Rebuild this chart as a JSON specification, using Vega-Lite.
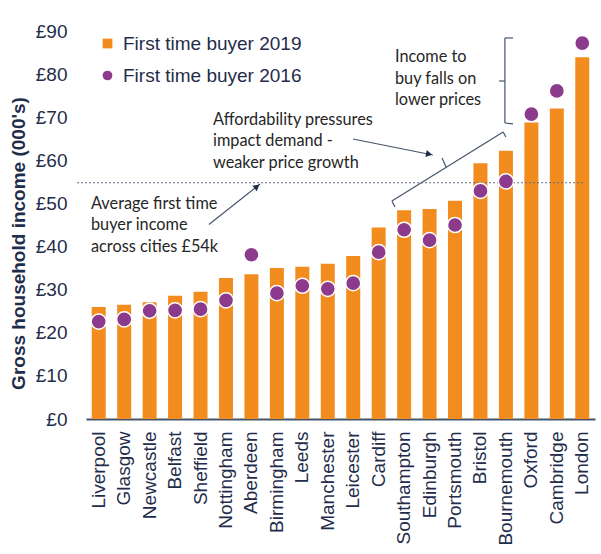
{
  "$schema": "https://vega.github.io/schema/vega-lite/v6.json",
  "autosize": {"type": "none"},
  "width": 509,
  "height": 388,
  "padding": {"left": 86, "top": 31, "right": 6, "bottom": 135},
  "background": "white",
  "config": {
    "view": {"stroke": null},
    "font": "Liberation Sans"
  },
  "datasets": {
    "incomes": [
      {"city": "Liverpool", "series": "First time buyer 2019", "value": 26.0},
      {"city": "Glasgow", "series": "First time buyer 2019", "value": 26.5},
      {"city": "Newcastle", "series": "First time buyer 2019", "value": 27.1},
      {"city": "Belfast", "series": "First time buyer 2019", "value": 28.6},
      {"city": "Sheffield", "series": "First time buyer 2019", "value": 29.5},
      {"city": "Nottingham", "series": "First time buyer 2019", "value": 32.7},
      {"city": "Aberdeen", "series": "First time buyer 2019", "value": 33.6},
      {"city": "Birmingham", "series": "First time buyer 2019", "value": 35.0},
      {"city": "Leeds", "series": "First time buyer 2019", "value": 35.3},
      {"city": "Manchester", "series": "First time buyer 2019", "value": 36.0},
      {"city": "Leicester", "series": "First time buyer 2019", "value": 37.8},
      {"city": "Cardiff", "series": "First time buyer 2019", "value": 44.4},
      {"city": "Southampton", "series": "First time buyer 2019", "value": 48.4},
      {"city": "Edinburgh", "series": "First time buyer 2019", "value": 48.7},
      {"city": "Portsmouth", "series": "First time buyer 2019", "value": 50.6},
      {"city": "Bristol", "series": "First time buyer 2019", "value": 59.3},
      {"city": "Bournemouth", "series": "First time buyer 2019", "value": 62.2},
      {"city": "Oxford", "series": "First time buyer 2019", "value": 68.8},
      {"city": "Cambridge", "series": "First time buyer 2019", "value": 72.0},
      {"city": "London", "series": "First time buyer 2019", "value": 83.9},
      {"city": "Liverpool", "series": "First time buyer 2016", "value": 22.6},
      {"city": "Glasgow", "series": "First time buyer 2016", "value": 23.1},
      {"city": "Newcastle", "series": "First time buyer 2016", "value": 25.1},
      {"city": "Belfast", "series": "First time buyer 2016", "value": 25.2},
      {"city": "Sheffield", "series": "First time buyer 2016", "value": 25.5},
      {"city": "Nottingham", "series": "First time buyer 2016", "value": 27.5},
      {"city": "Aberdeen", "series": "First time buyer 2016", "value": 38.1},
      {"city": "Birmingham", "series": "First time buyer 2016", "value": 29.2},
      {"city": "Leeds", "series": "First time buyer 2016", "value": 30.9},
      {"city": "Manchester", "series": "First time buyer 2016", "value": 30.2},
      {"city": "Leicester", "series": "First time buyer 2016", "value": 31.5},
      {"city": "Cardiff", "series": "First time buyer 2016", "value": 38.7},
      {"city": "Southampton", "series": "First time buyer 2016", "value": 43.9},
      {"city": "Edinburgh", "series": "First time buyer 2016", "value": 41.5},
      {"city": "Portsmouth", "series": "First time buyer 2016", "value": 45.0},
      {"city": "Bristol", "series": "First time buyer 2016", "value": 52.9},
      {"city": "Bournemouth", "series": "First time buyer 2016", "value": 55.1},
      {"city": "Oxford", "series": "First time buyer 2016", "value": 70.7},
      {"city": "Cambridge", "series": "First time buyer 2016", "value": 76.1},
      {"city": "London", "series": "First time buyer 2016", "value": 87.2}
    ],
    "average": [{"p": -0.35, "p2": 19.53, "v": 54.8}],
    "lines": [
      {"p": 4.83, "v": 45.1, "p2": 6.84, "v2": 54.5},
      {"p": 10.49, "v": 64.95, "p2": 13.63, "v2": 61.24},
      {"p": 12.02, "v": 50.57, "p2": 16.39, "v2": 66.57},
      {"p": 12.02, "v": 50.57, "p2": 12.14, "v2": 49.18},
      {"p": 16.39, "v": 66.57, "p2": 16.5, "v2": 65.41},
      {"p": 14.15, "v": 58.46, "p2": 13.99, "v2": 60.54},
      {"p": 16.46, "v": 88.38, "p2": 16.46, "v2": 68.66},
      {"p": 16.46, "v": 88.38, "p2": 16.78, "v2": 88.38},
      {"p": 16.46, "v": 68.66, "p2": 16.78, "v2": 68.45},
      {"p": 16.23, "v": 78.4, "p2": 16.46, "v2": 78.4}
    ],
    "head1": [{"p": 6.72, "v": 53.93}],
    "head2": [{"p": 13.48, "v": 61.43}],
    "notes": [
      {"label": "Average first time", "p": 0.196, "v": 49.87},
      {"label": "buyer income", "p": 0.196, "v": 45.0},
      {"label": "across cities £54k", "p": 0.196, "v": 39.9},
      {"label": "Affordability pressures", "p": 4.99, "v": 69.36},
      {"label": "impact demand -", "p": 4.99, "v": 64.49},
      {"label": "weaker price growth", "p": 4.99, "v": 59.38},
      {"label": "Income to", "p": 12.14, "v": 83.97},
      {"label": "buy falls on", "p": 12.14, "v": 78.87},
      {"label": "lower prices", "p": 12.14, "v": 74.0}
    ]
  },
  "resolve": {"scale": {"x": "independent"}},
  "layer": [
    {
      "data": {"name": "incomes"},
      "transform": [{"filter": "datum.series === 'First time buyer 2019'"}],
      "mark": {"type": "bar", "color": "#F28C1E"},
      "encoding": {
        "x": {
          "field": "city", "type": "nominal", "sort": null,
          "scale": {"paddingInner": 0.45, "paddingOuter": 0.225},
          "axis": {
            "title": null, "labelAngle": -90, "labelFontSize": 19, "labelColor": "#1F2D4B",
            "labelFont": "Liberation Sans", "ticks": false, "labelPadding": 12,
            "domainColor": "#44546A", "domainWidth": 2
          }
        },
        "y": {
          "field": "value", "type": "quantitative",
          "scale": {"domain": [0, 90], "nice": false},
          "axis": {
            "title": "Gross household income (000's)", "titleFontSize": 19, "titleFontWeight": "bold",
            "titleColor": "#1F2D4B", "titleFont": "Liberation Sans",
            "titleAngle": 270, "titleAlign": "center", "titleBaseline": "middle",
            "titleX": -68, "titleY": 212,
            "values": [0, 10, 20, 30, 40, 50, 60, 70, 80, 90],
            "labelExpr": "'£' + datum.value", "labelFontSize": 19, "labelColor": "#1F2D4B",
            "labelFont": "Liberation Sans", "labelPadding": 19,
            "ticks": false, "domain": false, "grid": false
          }
        },
        "color": {
          "field": "series", "type": "nominal",
          "scale": {"domain": ["First time buyer 2019", "First time buyer 2016"], "range": ["#F28C1E", "#8C3A8C"]},
          "legend": {
            "title": null, "orient": "none", "legendX": 12, "legendY": 3,
            "labelFontSize": 19, "labelColor": "#1F2D4B", "labelFont": "Liberation Sans",
            "labelLimit": 400,
            "symbolSize": 95, "rowPadding": 12, "labelOffset": 6, "padding": 0,
            "symbolStrokeWidth": 0
          }
        }
      }
    },
    {
      "data": {"name": "average"},
      "mark": {"type": "rule", "color": "#5B6B82", "strokeWidth": 1.2, "strokeDash": [2, 2]},
      "encoding": {
        "x": {"field": "p", "type": "quantitative", "scale": {"domain": [0, 20], "nice": false, "zero": false}, "axis": null},
        "x2": {"field": "p2"},
        "y": {"field": "v", "type": "quantitative"}
      }
    },
    {
      "data": {"name": "incomes"},
      "transform": [{"filter": "datum.series === 'First time buyer 2016'"}],
      "mark": {"type": "point", "filled": true, "opacity": 1, "size": 230, "stroke": "white", "strokeWidth": 1.5},
      "encoding": {
        "x": {"field": "city", "type": "nominal", "sort": null, "scale": {"paddingInner": 0.45, "paddingOuter": 0.225}, "axis": null},
        "y": {"field": "value", "type": "quantitative"},
        "color": {"field": "series", "type": "nominal"},
        "shape": {
          "field": "series", "type": "nominal",
          "scale": {"domain": ["First time buyer 2019", "First time buyer 2016"], "range": ["square", "circle"]}
        }
      }
    },
    {
      "data": {"name": "lines"},
      "mark": {"type": "rule", "color": "#44546A", "strokeWidth": 1.2},
      "encoding": {
        "x": {"field": "p", "type": "quantitative", "scale": {"domain": [0, 20], "nice": false, "zero": false}, "axis": null},
        "x2": {"field": "p2"},
        "y": {"field": "v", "type": "quantitative"},
        "y2": {"field": "v2"}
      }
    },
    {
      "data": {"name": "head1"},
      "mark": {"type": "point", "shape": "triangle-up", "filled": true, "color": "#1F2D4B", "opacity": 1, "size": 50, "angle": 51},
      "encoding": {
        "x": {"field": "p", "type": "quantitative", "scale": {"domain": [0, 20], "nice": false, "zero": false}, "axis": null},
        "y": {"field": "v", "type": "quantitative"}
      }
    },
    {
      "data": {"name": "head2"},
      "mark": {"type": "point", "shape": "triangle-up", "filled": true, "color": "#1F2D4B", "opacity": 1, "size": 50, "angle": 101},
      "encoding": {
        "x": {"field": "p", "type": "quantitative", "scale": {"domain": [0, 20], "nice": false, "zero": false}, "axis": null},
        "y": {"field": "v", "type": "quantitative"}
      }
    },
    {
      "data": {"name": "notes"},
      "mark": {"type": "text", "align": "left", "baseline": "middle", "font": "Lato", "fontSize": 16.3, "color": "#262626"},
      "encoding": {
        "x": {"field": "p", "type": "quantitative", "scale": {"domain": [0, 20], "nice": false, "zero": false}, "axis": null},
        "y": {"field": "v", "type": "quantitative"},
        "text": {"field": "label"}
      }
    }
  ]
}
